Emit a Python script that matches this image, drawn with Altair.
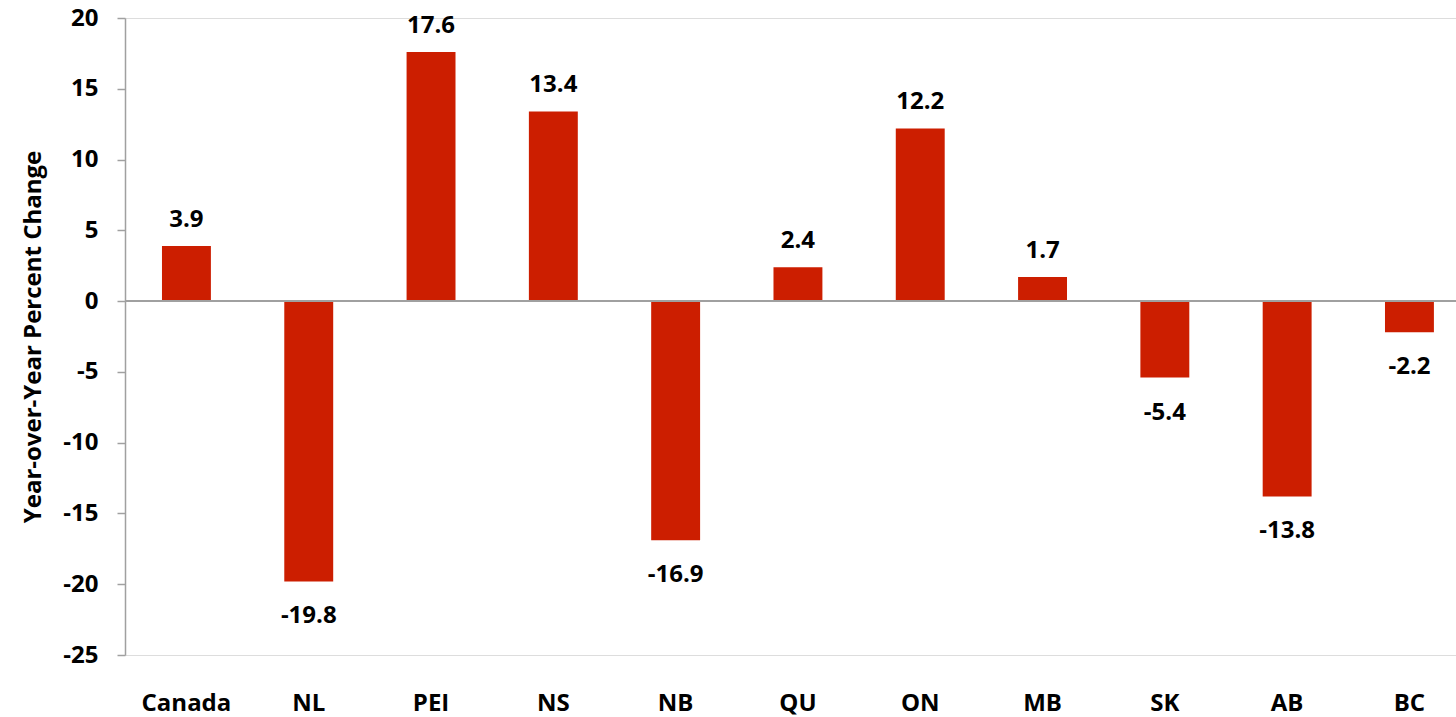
import altair as alt
import pandas as pd

# Provinces and year-over-year percent change
regions = ["Canada", "NL", "PEI", "NS", "NB", "QU", "ON", "MB", "SK", "AB", "BC"]
changes = [3.9, -19.8, 17.6, 13.4, -16.9, 2.4, 12.2, 1.7, -5.4, -13.8, -2.2]
y_ticks = [-25, -20, -15, -10, -5, 0, 5, 10, 15, 20]

df = pd.DataFrame({"region": regions, "change": changes})
# plain hyphen-minus for the value labels
df["label"] = [f"{v:.1f}" for v in changes]

FONT = "Open Sans"
RED = "#CC1E00"
GRAY = "#A0A0A0"
SIZE = 24

y_scale = alt.Scale(domain=[-25, 20], nice=False, zero=False)

x = alt.X(
    "region:N",
    sort=regions,
    title=None,
    scale=alt.Scale(paddingInner=0.6, paddingOuter=0.2415, align=0.626),
    axis=alt.Axis(
        domain=False,
        ticks=False,
        labelAngle=0,
        labelFont=FONT,
        labelFontSize=SIZE,
        labelFontWeight="bold",
        labelColor="#000000",
        labelPadding=36,
    ),
)

y = alt.Y(
    "change:Q",
    title="Year-over-Year Percent Change",
    scale=y_scale,
    axis=alt.Axis(
        values=y_ticks,
        labelExpr="replace(datum.label, '\u2212', '-')",
        grid=False,
        domainColor=GRAY,
        domainWidth=1.5,
        tickColor=GRAY,
        tickWidth=1.5,
        tickSize=8,
        labelFont=FONT,
        labelFontSize=SIZE,
        labelFontWeight="bold",
        labelColor="#000000",
        labelPadding=19,
        titleFont=FONT,
        titleFontSize=24,
        titleFontWeight="bold",
        titleColor="#000000",
        titlePadding=17,
    ),
)

base = alt.Chart(df)

bars = base.mark_bar(color=RED).encode(x=x, y=y, y2=alt.datum(0))

zero_line = (
    alt.Chart(pd.DataFrame({"z": [0]}))
    .mark_rule(color=GRAY, strokeWidth=2)
    .encode(y=alt.Y("z:Q", scale=y_scale), x=alt.value(0), x2=alt.value(1331))
)

label_style = dict(font=FONT, fontSize=SIZE, fontWeight="bold", color="#000000",
                   align="center", baseline="middle")

pos_labels = base.transform_filter("datum.change >= 0").mark_text(dy=-26, **label_style).encode(
    x=alt.X("region:N", sort=regions), y="change:Q", text="label:N"
)
neg_labels = base.transform_filter("datum.change < 0").mark_text(dy=35, **label_style).encode(
    x=alt.X("region:N", sort=regions), y="change:Q", text="label:N"
)

chart = (
    alt.layer(bars, zero_line, pos_labels, neg_labels)
    .properties(
        width=1331,
        height=637,
        autosize=alt.AutoSizeParams(type="none"),
        padding={"left": 125, "top": 18, "right": 0, "bottom": 62},
    )
    .configure_view(stroke=None)
    .configure(background="#FFFFFF")
)

chart.save("out.html", embed_options={"renderer": "svg", "actions": False})
